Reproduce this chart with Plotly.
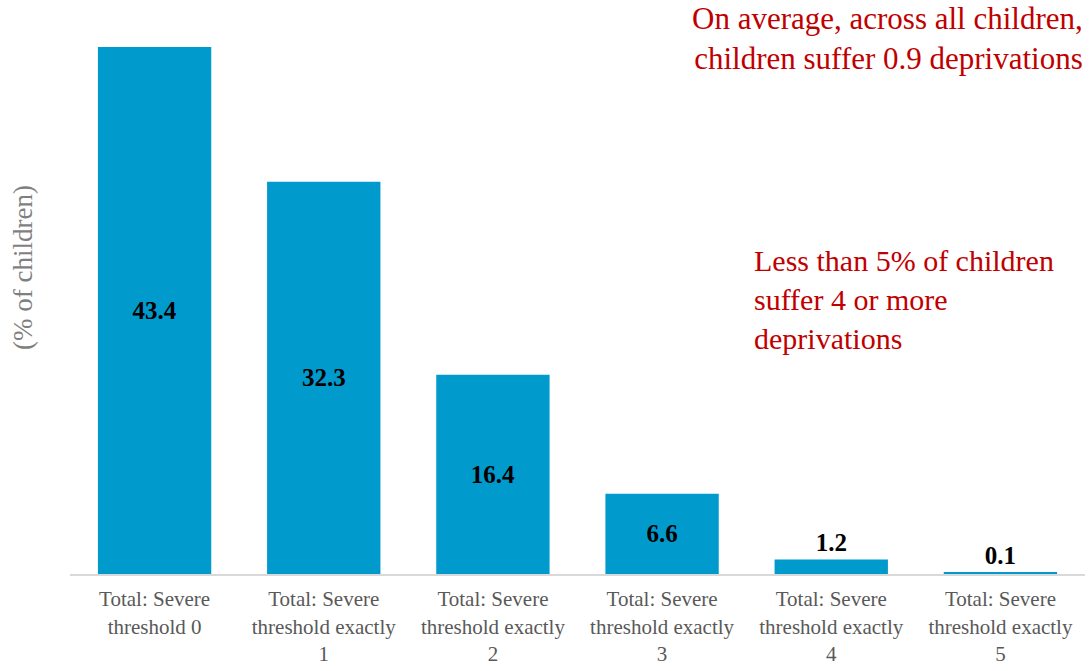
import plotly.graph_objects as go

categories = [
    "Total: Severe<br>threshold 0",
    "Total: Severe<br>threshold exactly<br>1",
    "Total: Severe<br>threshold exactly<br>2",
    "Total: Severe<br>threshold exactly<br>3",
    "Total: Severe<br>threshold exactly<br>4",
    "Total: Severe<br>threshold exactly<br>5",
]
values = [43.4, 32.3, 16.4, 6.6, 1.2, 0.1]
label_positions = ["inside", "inside", "inside", "inside", "outside", "outside"]

SERIF = "Liberation Serif"
BAR_COLOR = "#009ACD"
RED = "#C00000"

fig = go.Figure(
    go.Bar(
        x=categories,
        y=values,
        marker=dict(color=BAR_COLOR, line=dict(width=0)),
        width=0.67,
        text=[f"{v:.1f}" for v in values],
        texttemplate="<b>%{text}</b>",
        textposition=label_positions,
        insidetextanchor="middle",
        textangle=0,
        textfont=dict(family=SERIF, size=25, color="black"),
        cliponaxis=False,
    )
)

fig.update_layout(
    width=1091,
    height=671,
    margin=dict(l=70, r=6, t=10, b=97),
    plot_bgcolor="white",
    paper_bgcolor="white",
    showlegend=False,
    font=dict(family=SERIF),
)

fig.update_xaxes(
    automargin=False,
    showline=True,
    linecolor="#D9D9D9",
    linewidth=2,
    layer="above traces",
    ticks="",
    ticklabelstandoff=5,
    tickfont=dict(family=SERIF, size=21, color="#595959"),
    showgrid=False,
)
fig.update_yaxes(
    range=[0, 46.45],
    showticklabels=False,
    showgrid=False,
    zeroline=False,
    showline=False,
    ticks="",
)

fig.add_annotation(
    text="(% of children)",
    xref="paper", yref="paper",
    x=-0.047, y=0.543,
    xanchor="center", yanchor="middle",
    textangle=-90,
    showarrow=False,
    font=dict(family=SERIF, size=27, color="#7F7F7F"),
)
fig.add_annotation(
    text="On average, across all children,<br>children suffer 0.9 deprivations",
    xref="paper", yref="paper",
    x=1.0, y=1.02,
    xanchor="right", yanchor="top",
    align="right",
    showarrow=False,
    font=dict(family=SERIF, size=31, color=RED),
)
fig.add_annotation(
    text="Less than 5% of children<br>suffer 4 or more<br>deprivations",
    xref="paper", yref="paper",
    x=0.672, y=0.486,
    xanchor="left", yanchor="middle",
    align="left",
    showarrow=False,
    font=dict(family=SERIF, size=30, color=RED),
)

fig.write_html("out.html")
